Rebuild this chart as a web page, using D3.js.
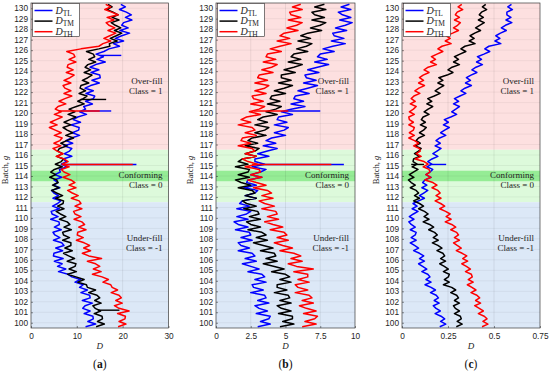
<!DOCTYPE html>
<html>
<head>
<meta charset="utf-8">
<script src="https://cdn.jsdelivr.net/npm/d3@7/dist/d3.min.js"></script>
<style>
  body { margin: 0; background: #fff; }
  .tick text { font-family: "Liberation Sans", Arial, sans-serif; font-size: 8.3px; fill: #262626; }
  .tick line { stroke: #262626; stroke-width: 0.5; }
  .domain { display: none; }
</style>
</head>
<body>
<script>
// batch categories (grams) and the four sub-sample positions inside one batch
var batches = d3.range(100, 131);
var subPos = [-0.375, -0.125, 0.125, 0.375];

// class bands on the batch axis
var bandOver = [116.5, 130.5];
var bandConf = [111.5, 116.5];
var bandConfCore = [113.5, 114.5];
var bandUnder = [99.5, 111.5];

// ---- panel (a): D, 4 samples per batch, batch 100 -> 130
var tlA = [
  11.9,14.1,12.4,13.6, 13.5,11.6,12.9,11.3, 11.8,13.4,11.2,12.9, 12.8,10.9,12.3,10.6, 11.4,9.6,10.8,8.9,
  8.1,6.0,7.6,5.8, 6.8,5.1,7.0,4.9, 5.0,6.9,5.4,7.2, 6.7,4.9,6.3,5.2, 4.8,6.6,5.1,6.2,
  6.1,4.3,5.9,4.6, 4.4,6.2,4.7,5.8, 6.5,4.8,6.0,5.0, 4.5,6.3,4.9,5.9, 5.0,6.7,5.2,6.4,
  6.2,7.9,6.6,7.7, 7.0,8.9,7.3,8.4, 8.9,7.2,9.1,7.6, 8.8,10.6,9.0,10.4, 10.5,8.7,10.8,9.2,
  10.2,12.1,10.6,11.9, 11.5,13.4,11.9,13.6, 13.9,12.0,13.6,11.8, 13.0,14.9,13.3,15.1, 15.0,13.1,14.8,12.9,
  14.1,16.2,14.4,15.8, 14.2,15.9,17.0,19.3, 18.0,20.2,18.4,19.8, 21.5,19.4,21.2,19.8, 20.2,22.0,20.6,21.9,
  20.8,19.3,20.6,19.6
];
var tmA = [
  14.2,16.0,14.5,15.6, 15.5,13.8,15.2,14.0, 13.5,15.3,13.9,15.0, 14.4,12.6,14.1,12.3, 12.1,10.2,11.6,9.8,
  8.0,9.9,8.3,9.6, 9.8,7.9,9.5,8.2, 7.1,9.0,7.4,8.7, 8.7,6.9,8.4,7.1, 6.9,8.8,7.2,8.5,
  7.9,6.2,7.6,6.4, 5.5,7.2,5.8,7.0, 7.1,5.4,6.9,5.6, 4.5,6.1,4.7,5.9, 5.6,4.1,5.4,4.3,
  5.1,6.8,5.3,6.6, 7.1,5.6,6.9,5.8, 6.2,7.9,6.5,7.8, 9.3,7.6,9.1,7.9, 7.0,8.7,7.2,8.5,
  9.8,8.1,9.6,8.3, 9.9,11.6,10.2,11.4, 12.2,10.5,11.9,10.7, 10.9,12.6,11.2,12.4, 13.3,11.6,13.0,11.8,
  12.4,14.1,12.6,13.9, 13.6,12.1,14.8,17.2, 17.1,18.8,17.3,18.6, 19.8,18.2,19.6,18.4, 17.5,19.2,17.7,19.0,
  17.9,16.5,17.7,16.8
];
var thA = [
  19.0,20.7,19.2,20.5, 20.6,18.9,21.4,19.2, 18.2,19.9,18.5,19.7, 19.2,17.5,18.9,17.7, 17.4,15.7,16.9,15.5,
  13.4,15.3,13.6,15.0, 14.1,12.3,15.4,12.6, 11.2,13.0,11.5,12.8, 11.6,9.9,11.4,10.1, 10.2,12.0,10.4,11.7,
  11.1,9.4,10.9,9.6, 9.3,11.1,9.6,10.9, 10.5,8.8,10.3,9.0, 8.0,9.8,8.3,9.6, 8.7,7.0,8.5,7.2,
  6.6,8.3,6.8,8.1, 7.2,5.5,7.0,5.7, 4.8,6.5,5.0,6.3, 6.8,5.1,6.6,5.3, 4.0,5.7,4.2,5.5,
  6.8,5.1,6.6,5.3, 5.9,7.6,6.1,7.4, 8.9,7.2,8.7,7.4, 7.0,8.7,7.2,8.5, 9.4,7.7,9.2,7.9,
  8.1,9.8,8.3,9.6, 9.3,7.8,10.9,14.8, 15.7,17.4,15.9,17.2, 18.5,16.8,18.3,17.0, 16.4,18.1,16.6,19.0,
  17.6,16.1,17.4,16.3
];
// single-sample outliers: [series, batch, from, to]
var spikesA = [
  ["TL", 115.1, 7.0, 23.0], ["TH", 115.1, 7.4, 22.2],
  ["TL", 120.2, 11.0, 17.5], ["TH", 120.2, 6.0, 15.0],
  ["TM", 101.2, 14.6, 19.3], ["TM", 121.3, 10.8, 16.4], ["TL", 125.5, 15.0, 19.7]
];

// ---- panel (b)
var tlB = [
  3.0,3.9,3.2,3.8, 3.9,2.9,3.7,3.1, 2.8,3.8,3.0,3.6, 3.5,2.5,3.4,2.7, 2.6,3.6,2.8,3.5,
  3.3,2.3,3.1,2.5, 1.9,2.9,2.1,2.8, 2.6,1.6,2.4,1.8, 1.6,2.6,1.8,2.5, 2.4,1.4,2.3,1.6,
  1.3,2.3,1.5,2.2, 2.5,1.5,2.4,1.7, 1.9,2.9,2.1,2.8, 3.0,2.0,2.9,2.2, 2.3,3.3,2.5,3.2,
  3.6,2.6,3.5,2.8, 2.8,3.8,3.0,3.7, 4.4,3.4,4.3,3.6, 4.0,5.0,4.2,4.9, 5.2,4.2,5.1,4.4,
  4.5,5.5,4.7,5.4, 6.4,5.4,6.3,5.6, 5.7,6.7,5.9,6.6, 7.3,6.3,7.2,6.5, 6.4,7.4,6.6,7.3,
  8.1,7.1,8.0,7.3, 7.5,8.5,7.7,8.4, 9.3,8.3,9.2,8.5, 8.4,9.4,8.6,9.3, 9.8,8.9,9.7,9.1,
  8.8,9.7,9.0,9.6
];
var tmB = [
  4.6,5.6,4.8,5.5, 5.5,4.5,5.4,4.7, 4.4,5.4,4.6,5.3, 5.2,4.2,5.1,4.4, 4.4,5.4,4.6,5.3,
  5.0,4.0,4.9,4.2, 3.4,4.4,3.6,4.3, 4.2,3.2,4.1,3.4, 2.7,3.7,2.9,3.6, 3.3,2.3,3.2,2.5,
  2.2,3.2,2.4,3.1, 3.0,2.0,2.9,2.2, 1.9,2.9,2.1,2.8, 2.6,1.6,2.5,1.8, 1.4,2.4,1.6,2.3,
  2.4,1.4,2.3,1.6, 1.9,2.9,2.1,2.8, 3.1,2.1,3.0,2.3, 2.6,3.6,2.8,3.5, 3.8,2.8,3.7,3.0,
  3.4,4.4,3.6,4.3, 4.7,3.7,4.6,3.9, 4.0,5.0,4.2,4.9, 5.5,4.5,5.4,4.7, 4.7,5.7,4.9,5.6,
  6.2,5.2,6.1,5.4, 5.6,6.6,5.8,6.5, 6.9,5.9,6.8,6.1, 6.6,7.6,6.8,7.5, 7.9,6.9,7.8,7.1,
  6.9,7.9,7.1,7.8
];
var thB = [
  6.2,7.2,6.4,7.1, 7.3,6.3,7.2,6.5, 6.0,7.0,6.2,6.9, 6.7,5.7,6.6,5.9, 5.7,6.7,5.9,6.6,
  6.6,5.6,7.0,5.8, 5.2,6.2,5.4,6.1, 5.6,4.6,5.5,4.8, 4.2,5.2,4.4,5.1, 4.9,3.9,4.8,4.1,
  3.5,4.5,3.7,4.4, 4.3,3.3,4.2,3.5, 3.1,4.1,3.3,4.0, 3.7,2.7,3.6,2.9, 2.3,3.3,2.5,3.2,
  3.1,2.1,3.0,2.3, 1.9,2.9,2.1,2.8, 2.6,1.6,2.5,1.8, 1.9,2.9,2.1,2.8, 2.6,1.6,2.5,1.8,
  2.2,3.2,2.4,3.1, 3.5,2.5,3.4,2.7, 2.6,3.6,2.8,3.5, 3.8,2.8,3.7,3.0, 3.1,4.1,3.3,4.0,
  4.4,3.4,4.3,3.6, 3.7,4.7,3.9,4.6, 5.4,4.4,5.3,4.6, 4.9,5.9,5.1,5.8, 6.2,5.2,6.1,5.4,
  5.3,6.2,5.5,6.1
];
var spikesB = [
  ["TL", 115.1, 3.2, 9.2], ["TH", 115.1, 2.6, 8.3],
  ["TL", 120.2, 5.0, 7.5], ["TH", 120.2, 2.7, 5.2]
];

// ---- panel (c)
var tlC = [
  .205,.238,.21,.232, .212,.18,.208,.185, .17,.202,.175,.198, .186,.155,.182,.158, .125,.158,.13,.152,
  .14,.108,.135,.112, .09,.122,.095,.118, .095,.063,.09,.068, .045,.077,.05,.072, .077,.045,.072,.05,
  .037,.065,.04,.062, .087,.055,.082,.06, .09,.122,.095,.118, .14,.108,.135,.112, .125,.158,.13,.152,
  .167,.135,.162,.14, .163,.195,.168,.19, .212,.18,.208,.185, .205,.238,.21,.232, .257,.225,.252,.23,
  .265,.297,.27,.292, .312,.28,.308,.285, .315,.347,.32,.342, .377,.345,.372,.35, .375,.407,.38,.402,
  .437,.405,.432,.41, .445,.477,.45,.472, .537,.505,.532,.51, .535,.567,.54,.562, .597,.565,.592,.57,
  .57,.6,.575,.595
];
var tmC = [
  .295,.327,.3,.322, .317,.285,.312,.29, .28,.312,.285,.307, .297,.265,.292,.27, .225,.257,.23,.252,
  .257,.225,.252,.23, .205,.237,.21,.232, .222,.19,.217,.195, .165,.197,.17,.192, .177,.145,.172,.15,
  .115,.147,.12,.142, .122,.09,.117,.095, .063,.095,.068,.09, .077,.045,.072,.05, .035,.065,.04,.062,
  .087,.055,.082,.06, .063,.095,.068,.09, .104,.072,.099,.077, .09,.122,.095,.117, .132,.1,.127,.105,
  .115,.147,.12,.142, .167,.135,.162,.14, .175,.207,.18,.202, .227,.195,.222,.2, .245,.277,.25,.272,
  .312,.28,.307,.285, .315,.347,.32,.342, .397,.365,.392,.37, .395,.427,.4,.422, .447,.415,.442,.42,
  .432,.46,.437,.455
];
var thC = [
  .435,.467,.44,.462, .447,.415,.442,.42, .395,.427,.4,.422, .407,.375,.402,.38, .355,.387,.36,.382,
  .377,.345,.372,.35, .325,.357,.33,.352, .327,.295,.322,.3, .28,.312,.285,.307, .297,.265,.292,.27,
  .235,.267,.24,.262, .237,.205,.232,.21, .18,.212,.185,.207, .195,.163,.19,.168, .125,.157,.13,.152,
  .147,.115,.142,.12, .072,.104,.077,.099, .095,.063,.09,.068, .037,.067,.04,.062, .067,.037,.062,.04,
  .037,.067,.04,.062, .077,.045,.072,.05, .065,.097,.07,.092, .122,.09,.117,.095, .115,.147,.12,.142,
  .187,.155,.182,.16, .19,.222,.195,.217, .267,.235,.262,.24, .275,.307,.28,.302, .317,.285,.312,.29,
  .3,.33,.305,.325
];
var spikesC = [
  ["TL", 115.1, 0.15, 0.24], ["TM", 115.1, 0.05, 0.12]
];

var xTicksA = [0, 10, 20, 30], xLabelsA = ["0", "10", "20", "30"];
var xTicksB = [0, 2.5, 5, 7.5, 10], xLabelsB = ["0", "2.5", "5", "7.5", "10"];
var xTicksC = [0, 0.25, 0.5, 0.75], xLabelsC = ["0", "0.25", "0.5", "0.75"];

var seriesNames = ["TL", "TM", "TH"];
var seriesColor = { TL: "#0000ff", TM: "#000000", TH: "#ff0000" };

var svg = d3.select("body").append("svg")
  .attr("width", 550).attr("height", 372)
  .style("font-family", "'Liberation Serif', 'DejaVu Serif', serif");

var y = d3.scaleLinear().domain([99.5, 130.5]).range([328, 3]);

var panels = [
  { left: 31, right: 168.5, max: 30, ticks: xTicksA, labels: xLabelsA, data: { TL: tlA, TM: tmA, TH: thA }, spikes: spikesA, tag: "a" },
  { left: 216, right: 355, max: 10, ticks: xTicksB, labels: xLabelsB, data: { TL: tlB, TM: tmB, TH: thB }, spikes: spikesB, tag: "b" },
  { left: 402, right: 540, max: 0.75, ticks: xTicksC, labels: xLabelsC, data: { TL: tlC, TM: tmC, TH: thC }, spikes: spikesC, tag: "c" }
];

panels.forEach(function (p) { drawPanel(p); });

function drawPanel(p) {
  var x = d3.scaleLinear().domain([0, p.max]).range([p.left, p.right]);
  var g = svg.append("g");
  var w = p.right - p.left;

  // class bands
  function band(b, color) {
    g.append("rect").attr("x", p.left).attr("width", w)
      .attr("y", y(b[1])).attr("height", y(b[0]) - y(b[1])).attr("fill", color);
  }
  band(bandOver, "#fde0e0");
  band(bandConf, "#ddfadb");
  band(bandConfCore, "#95ec95");
  band(bandUnder, "#dce8f7");

  // grid
  g.selectAll(".hg").data(batches).enter().append("line")
    .attr("x1", p.left).attr("x2", p.right)
    .attr("y1", function (d) { return y(d); }).attr("y2", function (d) { return y(d); })
    .attr("stroke", "#000").attr("stroke-opacity", 0.09).attr("stroke-width", 0.6);
  g.selectAll(".vg").data(p.ticks.slice(1, -1)).enter().append("line")
    .attr("y1", y(130.5)).attr("y2", y(99.5))
    .attr("x1", function (d) { return x(d); }).attr("x2", function (d) { return x(d); })
    .attr("stroke", "#000").attr("stroke-opacity", 0.12).attr("stroke-width", 0.6);

  // series
  var line = d3.line()
    .x(function (d) { return x(d.v); })
    .y(function (d) { return y(d.b); });
  seriesNames.forEach(function (s) {
    var pts = p.data[s].map(function (v, i) {
      return { b: batches[Math.floor(i / 4)] + subPos[i % 4], v: v };
    });
    g.append("path").datum(pts).attr("d", line)
      .attr("fill", "none").attr("stroke", seriesColor[s])
      .attr("stroke-width", 1.5).attr("stroke-linejoin", "round");
    p.spikes.filter(function (k) { return k[0] === s; }).forEach(function (k) {
      g.append("line")
        .attr("x1", x(k[2])).attr("x2", x(k[3]))
        .attr("y1", y(k[1])).attr("y2", y(k[1]))
        .attr("stroke", seriesColor[s]).attr("stroke-width", 1.4);
    });
  });

  // axes
  g.append("g").attr("transform", "translate(" + p.left + ",0)")
    .call(d3.axisLeft(y).tickValues(batches).tickSize(-2).tickPadding(3));
  g.append("g").attr("transform", "translate(0," + y(99.5) + ")")
    .call(d3.axisBottom(x).tickValues(p.ticks).tickSize(-2).tickPadding(5)
      .tickFormat(function (d, i) { return p.labels[i]; }));

  // frame
  g.append("rect").attr("x", p.left).attr("y", y(130.5))
    .attr("width", w).attr("height", y(99.5) - y(130.5))
    .attr("fill", "none").attr("stroke", "#3a3a3a").attr("stroke-width", 0.7);

  // class text
  var tx = p.right - 6;
  function label(txt, yy) {
    g.append("text").attr("x", tx).attr("y", yy).attr("text-anchor", "end")
      .attr("font-size", 9).attr("fill", "#222").text(txt);
  }
  label("Over-fill", 84); label("Class = 1", 94);
  label("Conforming", 178); label("Class = 0", 188);
  label("Under-fill", 241); label("Class = -1", 251);

  // legend
  var lg = g.append("g").attr("transform", "translate(" + (p.left + 1.5) + "," + (y(130.5) + 0.5) + ")");
  lg.append("rect").attr("width", 47).attr("height", 33)
    .attr("fill", "#fff").attr("stroke", "#262626").attr("stroke-width", 0.6);
  seriesNames.forEach(function (s, i) {
    var ly = 7 + i * 10.6;
    lg.append("line").attr("x1", 2).attr("x2", 20).attr("y1", ly).attr("y2", ly)
      .attr("stroke", seriesColor[s]).attr("stroke-width", 1.5);
    var t = lg.append("text").attr("x", 23).attr("y", ly + 3).attr("font-size", 10).attr("fill", "#222");
    t.append("tspan").attr("font-style", "italic").text("D");
    t.append("tspan").attr("font-size", 7.5).attr("dy", 2).text(s);
  });

  // axis titles
  var cx = (p.left + p.right) / 2;
  g.append("text").attr("x", cx).attr("y", 349).attr("text-anchor", "middle")
    .attr("font-size", 9).attr("font-style", "italic").attr("fill", "#222").text("D");
  var yl = g.append("text").attr("transform", "translate(" + (p.left - 23) + ",170) rotate(-90)")
    .attr("text-anchor", "middle").attr("font-size", 8.5).attr("fill", "#222");
  yl.append("tspan").text("Batch, ");
  yl.append("tspan").attr("font-style", "italic").text("g");

  // panel tag
  var pt = g.append("text").attr("x", cx).attr("y", 368).attr("text-anchor", "middle")
    .attr("font-size", 11.5).attr("fill", "#111");
  pt.append("tspan").text("(");
  pt.append("tspan").attr("font-weight", "bold").text(p.tag);
  pt.append("tspan").text(")");
}
</script>
</body>
</html>
